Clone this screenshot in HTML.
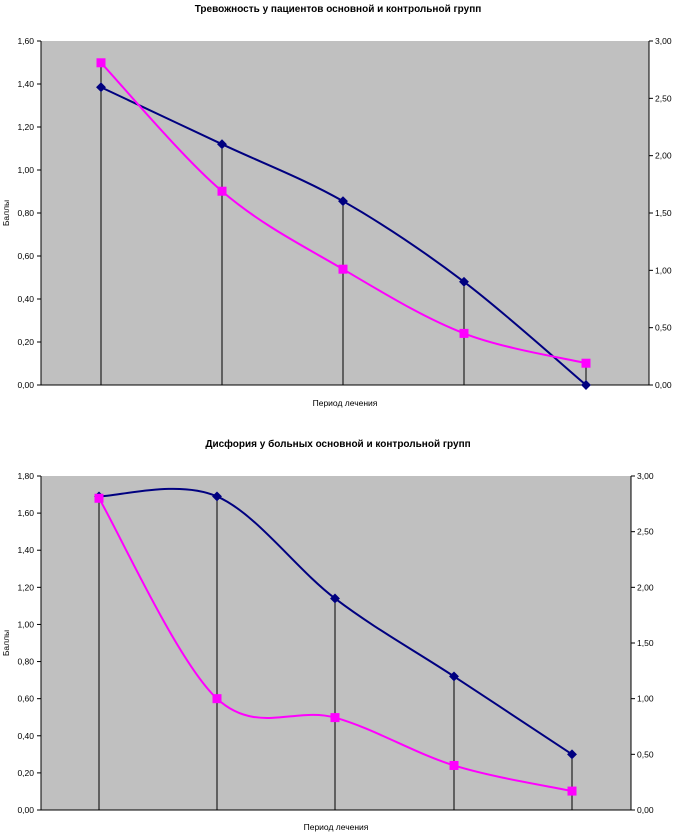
<!DOCTYPE html>
<html><head><meta charset="utf-8"><style>
html,body{margin:0;padding:0;background:#fff;}
svg{display:block;font-family:"Liberation Sans",Arial,sans-serif;}
</style></head><body>
<svg id="s" width="676" height="835" xmlns="http://www.w3.org/2000/svg"></svg>
<script>
const s=document.getElementById('s');let h='';
function cr(p){let d='M'+p[0][0]+','+p[0][1];for(let i=0;i<p.length-1;i++){const p0=p[i-1]||p[i],p1=p[i],p2=p[i+1],p3=p[i+2]||p2;const t=6;d+=' C'+(p1[0]+(p2[0]-p0[0])/t)+','+(p1[1]+(p2[1]-p0[1])/t)+' '+(p2[0]-(p3[0]-p1[0])/t)+','+(p2[1]-(p3[1]-p1[1])/t)+' '+p2[0]+','+p2[1];}return d;}
function chart(o){
 const L=o.L,R=o.R,T=o.T,B=o.B,H=B-T;
 h+=`<text x="338" y="${o.ty}" text-anchor="middle" font-size="10" font-weight="bold">${o.title}</text>`;
 h+=`<rect x="${L}" y="${T}" width="${R-L}" height="${H}" fill="#c0c0c0"/>`;
 h+=`<line x1="${L}" y1="${T}" x2="${L}" y2="${B}" stroke="#000"/><line x1="${R}" y1="${T}" x2="${R}" y2="${B}" stroke="#000"/><line x1="${L}" y1="${B}" x2="${R}" y2="${B}" stroke="#000"/>`;
 for(let i=0;i<=o.ln;i++){const v=o.lmax*i/o.ln,y=B-H*i/o.ln;h+=`<line x1="${L-4}" y1="${y}" x2="${L}" y2="${y}" stroke="#000"/><text x="${L-7}" y="${y+3}" text-anchor="end" font-size="8.5">${v.toFixed(2).replace('.',',')}</text>`;}
 for(let i=0;i<=6;i++){const v=3*i/6,y=B-H*i/6;h+=`<line x1="${R}" y1="${y}" x2="${R+4}" y2="${y}" stroke="#000"/><text x="${R+6}" y="${y+3}" font-size="8.5">${v.toFixed(2).replace('.',',')}</text>`;}
 const bp=o.xs.map((x,i)=>[x,B-H*o.blue[i]/o.lmax]);
 const pp=o.xs.map((x,i)=>[x,B-H*o.pink[i]/3]);
 o.xs.forEach((x,i)=>{const y=Math.min(bp[i][1],pp[i][1]);h+=`<line x1="${x}" y1="${y}" x2="${x}" y2="${B}" stroke="#000"/>`;});
 h+=`<path d="${cr(o.bpts||bp)}" fill="none" stroke="#000080" stroke-width="2"/>`;
 h+=`<path d="${cr(pp)}" fill="none" stroke="#ff00ff" stroke-width="2"/>`;
 bp.forEach(p=>h+=`<rect x="${p[0]-3.5}" y="${p[1]-3.5}" width="7" height="7" fill="#000080" transform="rotate(45 ${p[0]} ${p[1]})"/>`);
 pp.forEach(p=>h+=`<rect x="${p[0]-4.5}" y="${p[1]-4.5}" width="9" height="9" fill="#ff00ff"/>`);
 h+=`<text x="${(L+R)/2}" y="${o.xy}" text-anchor="middle" font-size="8.5">Период лечения</text>`;
 h+=`<text transform="translate(9,${(T+B)/2}) rotate(-90)" text-anchor="middle" font-size="8.5">Баллы</text>`;
}
chart({title:"Тревожность у пациентов основной и контрольной групп",ty:12,L:41,R:649,T:41,B:385,ln:8,lmax:1.6,xs:[101,222,343,464,586],blue:[1.385,1.12,0.855,0.48,0],pink:[2.81,1.69,1.01,0.45,0.19],xy:406});
chart({title:"Дисфория у больных основной и контрольной групп",ty:447,L:41,R:631,T:476,B:810,ln:9,lmax:1.8,xs:[99,217,335,454,572],blue:[1.69,1.69,1.14,0.72,0.30],pink:[2.8,1.0,0.83,0.4,0.17],xy:830});
s.innerHTML=h;
</script>
</body></html>
